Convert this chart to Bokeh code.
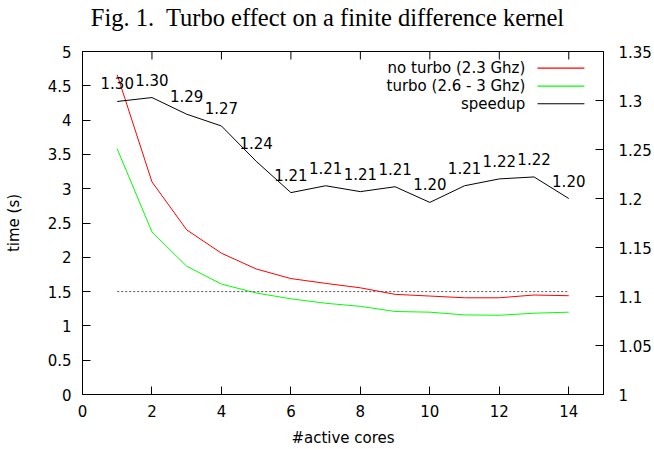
from bokeh.plotting import figure
from bokeh.models import Range1d, LinearAxis, FixedTicker, PrintfTickFormatter
from bokeh.embed import file_html
from bokeh.resources import INLINE
from bokeh.core.properties import value

# ---- data ----
cores = [1, 2, 3, 4, 5, 6, 7, 8, 9, 10, 11, 12, 13, 14]
no_turbo = [4.66, 3.10, 2.40, 2.06, 1.83, 1.69, 1.62, 1.555, 1.46, 1.435, 1.41, 1.41, 1.45, 1.44]
turbo = [3.58, 2.37, 1.87, 1.61, 1.48, 1.395, 1.33, 1.285, 1.21, 1.20, 1.16, 1.155, 1.185, 1.20]
speedup = [1.299, 1.303, 1.286, 1.274, 1.238, 1.206, 1.213, 1.207, 1.212, 1.196, 1.213, 1.220, 1.222, 1.200]
speedup_labels = ["%.2f" % s for s in speedup]
ref_x = [1, 14]
ref_y = [1.5, 1.5]

x_ticks = [0, 2, 4, 6, 8, 10, 12, 14]
y_ticks = [0, 0.5, 1, 1.5, 2, 2.5, 3, 3.5, 4, 4.5, 5]
y2_ticks = [1, 1.05, 1.1, 1.15, 1.2, 1.25, 1.3, 1.35]

series_names = ["no turbo (2.3 Ghz)", "turbo (2.6 - 3 Ghz)", "speedup"]
series_colors = ["#ff0000", "#00ff00", "#000000"]

TITLE = "Fig. 1.\u00a0 Turbo effect on a finite difference kernel"
# trailing non-breaking spaces shift the centred caption left (it is centred on the page, not the frame)
TITLE_PAD = "\u00a0" * 5
FONT = "DejaVu Sans"
FS = "15px"

# layout constants
W, H = 654, 449
BL, BR, BT, BB = 82, 50, 51, 55
X_MAX, Y_MAX = 15, 5
TICK_PX = 8
FRAME_H = H - BT - BB

# legend layout (data units of the left axis)
LEG_TEXT_X = 12.75
LEG_LINE_X0 = 13.10
LEG_LINE_X1 = 14.45
LEG_Y = [4.757, 4.494, 4.238]

p = figure(width=W, height=H, x_range=Range1d(0, X_MAX), y_range=Range1d(0, Y_MAX),
           output_backend="svg", toolbar_location=None,
           min_border_left=BL, min_border_right=BR, min_border_top=BT, min_border_bottom=BB,
           x_axis_label="#active cores", y_axis_label="time (s)")
p.extra_y_ranges = {"speed": Range1d(1, 1.35)}
p.xgrid.visible = False
p.ygrid.visible = False
p.outline_line_color = "black"
p.outline_line_alpha = 1
p.background_fill_color = "white"
p.border_fill_color = "white"


def style(ax, standoff):
    ax.axis_line_color = "black"
    ax.major_tick_line_color = "black"
    ax.major_tick_in = TICK_PX
    ax.major_tick_out = 0
    ax.minor_tick_line_color = None
    ax.major_label_text_font = FONT
    ax.major_label_text_font_size = FS
    ax.major_label_text_color = "black"
    ax.major_label_standoff = standoff
    ax.axis_label_text_font = FONT
    ax.axis_label_text_font_size = FS
    ax.axis_label_text_font_style = "normal"
    ax.axis_label_text_color = "black"
    ax.formatter = PrintfTickFormatter(format="%g")


xa = p.xaxis[0]
xa.ticker = FixedTicker(ticks=x_ticks)
style(xa, 10)
xa.axis_label_standoff = 9

ya = p.yaxis[0]
ya.ticker = FixedTicker(ticks=y_ticks)
style(ya, 11)
ya.axis_label_standoff = 22

y2 = LinearAxis(y_range_name="speed", ticker=FixedTicker(ticks=y2_ticks))
style(y2, 15)
p.add_layout(y2, "right")

# caption-style title: label of an otherwise empty top axis
cap = LinearAxis(ticker=FixedTicker(ticks=[]), axis_label=TITLE + TITLE_PAD)
cap.axis_line_color = None
cap.major_tick_in = 0
cap.major_tick_out = 0
cap.minor_tick_line_color = None
cap.major_label_standoff = 0
cap.axis_label_standoff = 21
cap.axis_label_text_font = "Liberation Serif"
cap.axis_label_text_font_size = "24.5px"
cap.axis_label_text_font_style = "normal"
cap.axis_label_text_color = "black"
p.add_layout(cap, "above")

# mirrored x ticks on the top border (gnuplot style)
tick_len = TICK_PX * Y_MAX / FRAME_H
p.segment(x0=x_ticks, y0=[Y_MAX] * len(x_ticks), x1=x_ticks,
          y1=[Y_MAX - tick_len] * len(x_ticks), line_color="black", line_width=1)

# series
p.line(cores, no_turbo, line_color=series_colors[0], line_width=1)
p.line(cores, turbo, line_color=series_colors[1], line_width=1)
p.line(ref_x, ref_y, line_color="#555555", line_width=1, line_dash="2 2")
p.line(cores, speedup, line_color=series_colors[2], line_width=1, y_range_name="speed")
p.text(x=cores, y=speedup, text=speedup_labels, y_range_name="speed", y_offset=-18,
       text_align="center", text_baseline="middle", text_font=value(FONT),
       text_font_size=FS, text_color="black")

# legend (gnuplot style: label then sample)
p.text(x=[LEG_TEXT_X] * 3, y=LEG_Y, text=series_names, text_align="right",
       text_baseline="middle", text_font=value(FONT), text_font_size=FS, text_color="black")
p.segment(x0=[LEG_LINE_X0] * 3, y0=LEG_Y, x1=[LEG_LINE_X1] * 3, y1=LEG_Y,
          line_color=series_colors, line_width=1.2)

open("out.html", "w").write(file_html(p, INLINE))
